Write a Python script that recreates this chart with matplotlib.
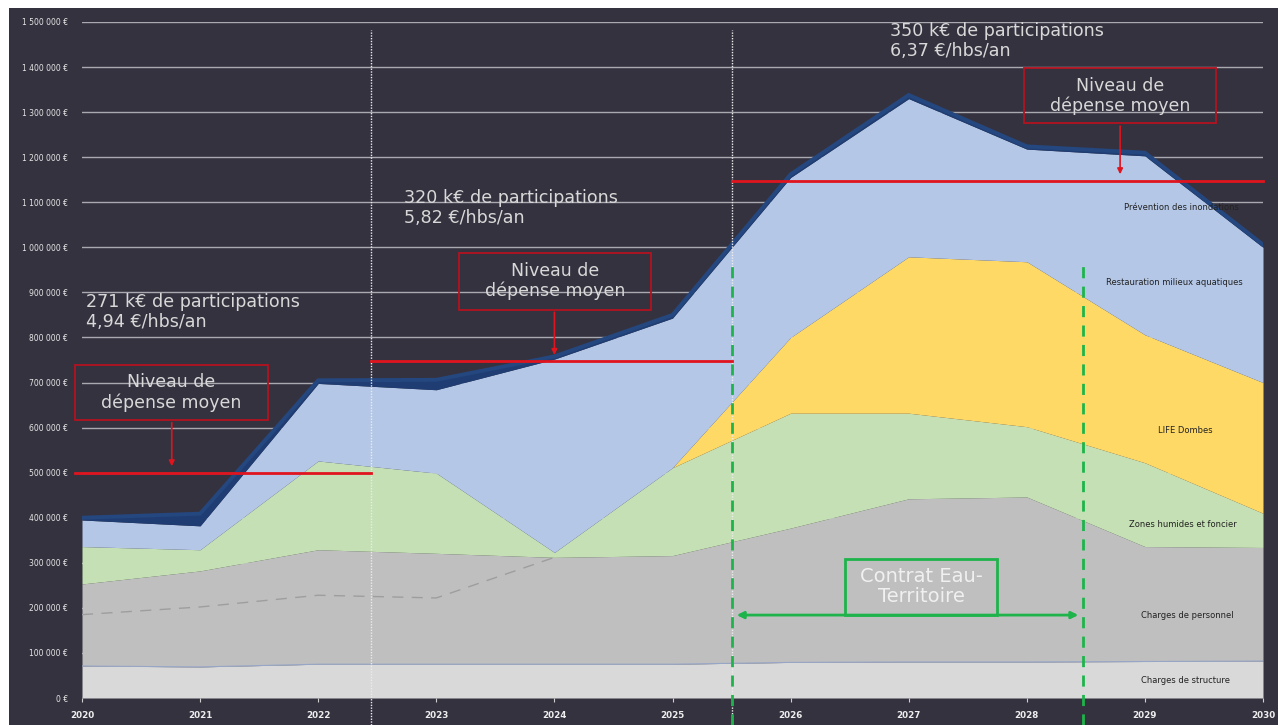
import numpy as np
import matplotlib
matplotlib.use('Agg')
import matplotlib.pyplot as plt
from matplotlib.patches import Rectangle
from matplotlib.ticker import FuncFormatter

# années du programme
annees = [2020, 2021, 2022, 2023, 2024, 2025, 2026, 2027, 2028, 2029, 2030]

# montants en k€
charges_structure = [71, 69, 75, 75, 75, 75, 79, 80, 80, 81, 82]
charges_personnel = [182, 213, 254, 246, 237, 241, 298, 362, 366, 255, 252]
zones_humides = [83, 47, 197, 178, 11, 195, 255, 190, 156, 186, 76]
life_dombes = [0, 0, 0, 0, 0, 0, 168, 347, 366, 284, 290]
restauration = [59, 53, 172, 185, 429, 332, 355, 351, 250, 397, 300]
prevention = [5, 27, 7, 22, 6, 7, 7, 8, 6, 7, 6]

# ligne pointillée dans les charges de personnel
annees_pointille = [2020, 2021, 2022, 2023, 2024]
pointille = [185, 202, 228, 222, 312]

# niveaux de dépense moyens par période (k€)
periodes = [(2019.94, 2022.45), (2022.45, 2025.5), (2025.5, 2030)]
niveaux_moyens = [500, 747, 1148]
participations = ["271 k€ de participations\n4,94 €/hbs/an",
                  "320 k€ de participations\n5,82 €/hbs/an",
                  "350 k€ de participations\n6,37 €/hbs/an"]

couches = [
    ("Charges de structure", charges_structure, "#d9d9d9"),
    ("Charges de personnel", charges_personnel, "#bfbfbf"),
    ("Zones humides et foncier", zones_humides, "#c5e0b4"),
    ("LIFE Dombes", life_dombes, "#ffd966"),
    ("Restauration milieux aquatiques", restauration, "#b4c7e7"),
    ("Prévention des inondations", prevention, "#1f3d73"),
]

fond = "#35323f"
gris_txt = "#d8d8d8"

fig = plt.figure(figsize=(12.78, 7.25), dpi=100, facecolor="white")
fig.patches.append(Rectangle((9 / 1278, 0), 1, 1 - 8 / 725, transform=fig.transFigure,
                             facecolor=fond, edgecolor="none", zorder=-10))
ax = fig.add_axes([82 / 1278, 27 / 725, (1263 - 82) / 1278, (698 - 22) / 725])
ax.set_facecolor("none")

x = np.array(annees)
bas = np.zeros(len(annees))
for nom, vals, couleur in couches:
    haut = bas + np.array(vals) * 1000
    ax.fill_between(x, bas, haut, color=couleur, lw=0, zorder=2)
    bas = haut

# contour du total
ax.plot(x, bas, color="#24477f", lw=2.8, zorder=3, solid_joinstyle="miter")
ax.plot(x, np.array(charges_structure) * 1000, color="#97a6c6", lw=0.8, zorder=3)
ax.plot(annees_pointille, np.array(pointille) * 1000, color="#9e9e9e", lw=1,
        ls=(0, (8, 6)), zorder=3)

ax.set_xlim(2020, 2030)
ax.set_ylim(0, 1500000)
ax.set_yticks(np.arange(0, 1500001, 100000))
ax.set_xticks(annees)
ax.yaxis.set_major_formatter(FuncFormatter(lambda v, p: f"{int(v):,} €".replace(",", " ")))
ax.grid(axis="y", color="#a9a9b0", lw=1, zorder=0)
ax.set_axisbelow(True)
for s in ax.spines.values():
    s.set_visible(False)
ax.tick_params(axis="y", length=0, labelsize=5.5, labelcolor="#e6e6e6", pad=10)
ax.tick_params(axis="x", length=3, color="#cfcfcf", labelsize=6.3, labelcolor="#eeeeee", pad=6)
for t in ax.get_xticklabels():
    t.set_fontweight("bold")

# séparateurs de période
for xs in [2022.45, 2025.5]:
    ax.plot([xs, xs], [-60000, 1483000], color="#ececec", lw=1, ls=(0, (1, 1)),
            zorder=4, clip_on=False)

# niveaux moyens
for (x0, x1), niv in zip(periodes, niveaux_moyens):
    ax.plot([x0, x1], [niv * 1000, niv * 1000], color="#e0141e", lw=2, zorder=5, clip_on=False)

# encadrés "Niveau de dépense moyen"
boites = [(2019.94, 2021.575, 617000, 740000, 2020.76, 500000),
          (2023.19, 2024.82, 862000, 988000, 2024.0, 747000),
          (2027.98, 2029.60, 1275000, 1397000, 2028.79, 1148000)]
for x0, x1, y0, y1, xa, ya in boites:
    ax.add_patch(Rectangle((x0, y0), x1 - x0, y1 - y0, fill=False, edgecolor="#b3121e",
                           lw=1.3, zorder=6, clip_on=False))
    ax.text((x0 + x1) / 2, (y0 + y1) / 2, "Niveau de\ndépense moyen", ha="center", va="center",
            fontsize=12.5, color=gris_txt, zorder=7, linespacing=1.15)
    ax.annotate("", xy=(xa, ya + 8000), xytext=(xa, y0),
                arrowprops=dict(arrowstyle="-|>", color="#e0141e", lw=1.2, mutation_scale=8),
                zorder=6)

# textes de participation
pos_part = [(2020.03, 857000), (2022.73, 1087000), (2026.84, 1458000)]
for (xp, yp), txt in zip(pos_part, participations):
    ax.text(xp, yp, txt, ha="left", va="center", fontsize=12.6, color=gris_txt,
            linespacing=1.15, zorder=7)

# Contrat Eau-Territoire
vert = "#1eb44b"
for xs in [2025.5, 2028.48]:
    ax.plot([xs, xs], [-60000, 960000], color=vert, lw=2, ls=(0, (4, 3)), zorder=6, clip_on=False)
ax.annotate("", xy=(2025.52, 184000), xytext=(2028.46, 184000),
            arrowprops=dict(arrowstyle="<|-|>", color=vert, lw=2, mutation_scale=10), zorder=6)
ax.add_patch(Rectangle((2026.46, 184000), 2027.75 - 2026.46, 309000 - 184000, fill=False,
                       edgecolor=vert, lw=2, zorder=6))
ax.text((2026.46 + 2027.75) / 2, 247000, "Contrat Eau-\nTerritoire", ha="center", va="center",
        fontsize=14, color="#f0f0f0", linespacing=1.05, zorder=7)

# étiquettes des couches
etiquettes = [("Prévention des inondations", 2029.31, 1088000),
              ("Restauration milieux aquatiques", 2029.25, 921000),
              ("LIFE Dombes", 2029.34, 593000),
              ("Zones humides et foncier", 2029.32, 386000),
              ("Charges de personnel", 2029.36, 184000),
              ("Charges de structure", 2029.34, 38000)]
for txt, xe, ye in etiquettes:
    ax.text(xe, ye, txt, ha="center", va="center", fontsize=6, color="#222222", zorder=7)

fig.savefig("out.png", dpi=100, facecolor=fig.get_facecolor())
